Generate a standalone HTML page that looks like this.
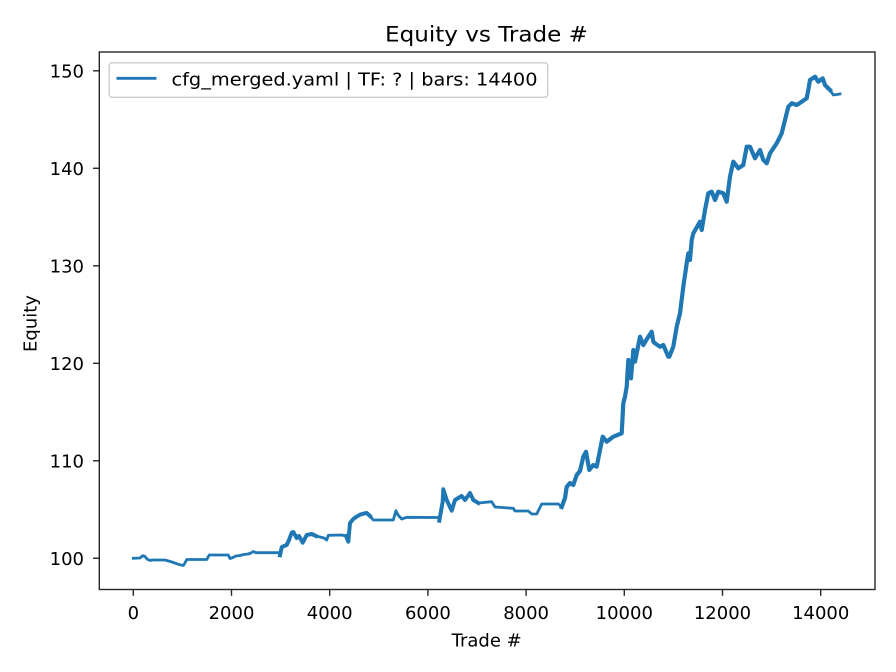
<!DOCTYPE html>
<html><head><meta charset="utf-8"><style>
html,body{margin:0;padding:0;background:#fff;}
svg{display:block;}
text{font-family:"DejaVu Sans","Liberation Sans",sans-serif;fill:#000;}
</style></head><body>
<svg width="896" height="672" viewBox="0 0 896 672" xmlns="http://www.w3.org/2000/svg">
<rect width="896" height="672" fill="#fff"/>
<!-- title -->
<text x="486.5" y="41.5" font-size="21.5" text-anchor="middle" textLength="203" lengthAdjust="spacingAndGlyphs">Equity vs Trade #</text>
<!-- data line -->
<g fill="none" stroke="#1f77b4" stroke-linejoin="round" stroke-linecap="square">
<polyline stroke-width="2.8" points="133.3,558.3 140,558 142.7,555.7 145,556.5 147,559 150,560.5 152,560 165,560 172,562 178.3,564.3 183.3,565.5 185,563 186.7,559.5 206.7,559.5 209.3,555 228.3,555 230,558.5 233,557.5 236,556 240,555.5 244,554.5 248,554 251,553 253.3,551.5 256,552.7 279.3,552.7 280,555.3 281.7,547.3 284,546 286.7,545 289,540 291.7,532.7 293.3,532 296.7,538 299,536 302.7,542.7 306.7,535 311.7,534 316,536 320,537 324,538 326.7,540 328.3,535.3 341.7,535 346,536 348.3,541.7 350,523 353.3,519 356,517 360,514.7 364,513.5 366.7,513 370,516 373.3,520 393.3,520 396,510.7 398,515 401.7,519 406.7,517.3 438.3,517.5 439.3,520.7 442.7,501.7 443.3,489.3 446.7,500 451.7,510.7 455,500 458.3,498 461.7,496 465,500 470,493 473.3,500 478.3,503 491.7,501.7 495,507 513.3,508.3 515,511 528.3,511 531.7,514 536.7,514 541.7,504 558.3,504 561.7,507 565,498 566.7,487 570,483 573.3,485 576.7,475 580,471 583.3,456.7 586,451.7 589.3,470 593.3,465 596.7,466.7 600,450 602.7,436.7 606.7,441.7 613.3,436.7 621.7,433.3 623.3,403.3 625,396.7 626.7,386.7 628.3,360 631,378.3 633.3,350 635,361.7 640,336.7 643.3,345 647.3,338.3 651.7,331.7 653.3,341.7 655,343.3 660,346.7 663.3,345 668.3,356.7 669.3,356.7 673.3,346.7 676.7,326.7 680,313.3 683.3,286.7 686.7,263.3 688.3,253.3 690,260 691.7,240 693.3,233.3 700,221.7 701.7,230 705,210 708.3,193.3 711.7,191.7 715,200 718.3,191.7 723.3,193.3 726.7,201.7 730,176.7 733.3,161.7 738.3,168.3 743.3,165 746.7,146.7 750,146.7 755,158.3 760,150 763.3,160 766.7,163.3 770,153.3 776.7,143.3 781.7,133.3 785,120 788.3,106.7 791.7,103.3 796.7,105 801.7,101.7 806.7,98.3 808.3,90 810,80 815,76.7 818.3,81.7 822.7,78.3 825,85 830,90 833.3,95 840,94"/>
<polyline stroke-width="4" points="280,555.3 281.7,547.3 284,546 286.7,545 289,540 291.7,532.7 293.3,532 296.7,538 299,536 302.7,542.7 306.7,535 311.7,534 316,536"/>
<polyline stroke-width="4" points="346,536 348.3,541.7 350,523 353.3,519 356,517 360,514.7 364,513.5 366.7,513 370,516"/>
<polyline stroke-width="4" points="439.3,520.7 442.7,501.7 443.3,489.3 446.7,500 451.7,510.7 455,500 458.3,498 461.7,496 465,500 470,493 473.3,500 478.3,503"/>
<polyline stroke-width="4.2" points="561.7,507 565,498 566.7,487 570,483 573.3,485 576.7,475 580,471 583.3,456.7 586,451.7 589.3,470 593.3,465 596.7,466.7 600,450 602.7,436.7 606.7,441.7 613.3,436.7 621.7,433.3 623.3,403.3 625,396.7 626.7,386.7 628.3,360 631,378.3 633.3,350 635,361.7 640,336.7 643.3,345 647.3,338.3 651.7,331.7 653.3,341.7 655,343.3 660,346.7 663.3,345 668.3,356.7 669.3,356.7 673.3,346.7 676.7,326.7 680,313.3 683.3,286.7 686.7,263.3 688.3,253.3 690,260 691.7,240 693.3,233.3 700,221.7 701.7,230 705,210 708.3,193.3 711.7,191.7 715,200 718.3,191.7 723.3,193.3 726.7,201.7 730,176.7 733.3,161.7 738.3,168.3 743.3,165 746.7,146.7 750,146.7 755,158.3 760,150 763.3,160 766.7,163.3 770,153.3 776.7,143.3 781.7,133.3 785,120 788.3,106.7 791.7,103.3 796.7,105 801.7,101.7 806.7,98.3 808.3,90 810,80 815,76.7 818.3,81.7 822.7,78.3 825,85 830,90"/>
</g>
<!-- spines -->
<rect x="99.3" y="52" width="775.7" height="537.5" fill="none" stroke="#262626" stroke-width="1.4"/>
<!-- x ticks -->
<g stroke="#262626" stroke-width="1.4">
<line x1="133.3" y1="589.5" x2="133.3" y2="595.8"/>
<line x1="231.5" y1="589.5" x2="231.5" y2="595.8"/>
<line x1="329.7" y1="589.5" x2="329.7" y2="595.8"/>
<line x1="427.9" y1="589.5" x2="427.9" y2="595.8"/>
<line x1="526.1" y1="589.5" x2="526.1" y2="595.8"/>
<line x1="624.3" y1="589.5" x2="624.3" y2="595.8"/>
<line x1="722.5" y1="589.5" x2="722.5" y2="595.8"/>
<line x1="820.7" y1="589.5" x2="820.7" y2="595.8"/>
<line x1="93" y1="558.3" x2="99.3" y2="558.3"/>
<line x1="93" y1="460.8" x2="99.3" y2="460.8"/>
<line x1="93" y1="363.3" x2="99.3" y2="363.3"/>
<line x1="93" y1="265.8" x2="99.3" y2="265.8"/>
<line x1="93" y1="168.3" x2="99.3" y2="168.3"/>
<line x1="93" y1="70.8" x2="99.3" y2="70.8"/>
</g>
<g font-size="18" text-anchor="middle">
<text x="133.3" y="619">0</text>
<text x="231.5" y="619">2000</text>
<text x="329.7" y="619">4000</text>
<text x="427.9" y="619">6000</text>
<text x="526.1" y="619">8000</text>
<text x="624.3" y="619">10000</text>
<text x="722.5" y="619">12000</text>
<text x="820.7" y="619">14000</text>
</g>
<g font-size="18" text-anchor="end">
<text x="84" y="564.8">100</text>
<text x="84" y="467.3">110</text>
<text x="84" y="369.8">120</text>
<text x="84" y="272.3">130</text>
<text x="84" y="174.8">140</text>
<text x="84" y="77.3">150</text>
</g>
<text x="486.7" y="646.5" font-size="18" text-anchor="middle">Trade #</text>
<text transform="translate(36.5,323.5) rotate(-90)" font-size="18" text-anchor="middle">Equity</text>
<!-- legend -->
<rect x="109.2" y="62.8" width="438.5" height="34.5" rx="3" ry="3" fill="#fff" fill-opacity="0.8" stroke="#cccccc" stroke-width="1.4"/>
<line x1="116.5" y1="78.3" x2="156.5" y2="78.3" stroke="#1f77b4" stroke-width="2.8"/>
<text x="171.5" y="85.5" font-size="18" textLength="366" lengthAdjust="spacingAndGlyphs">cfg_merged.yaml | TF: ? | bars: 14400</text>
</svg>
</body></html>
